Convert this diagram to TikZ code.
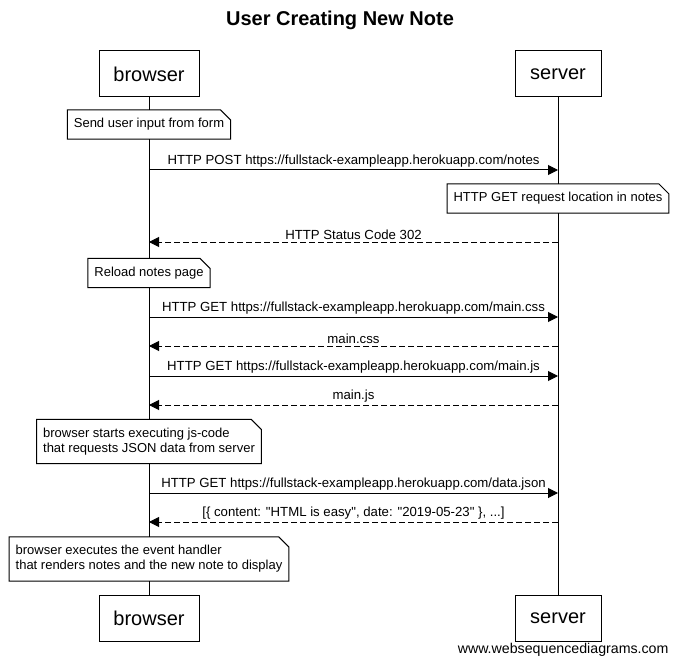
\documentclass[tikz,border=0pt]{standalone}
\usepackage{fontspec}
\setmainfont{Liberation Sans}[Ligatures=TeXOff]
\usetikzlibrary{calc,arrows.meta,positioning}

\begin{document}
\begin{tikzpicture}[x=1pt,y=-1pt,line width=1pt,
  actor/.style={draw,minimum height=46pt,inner sep=0pt,font=\fontsize{20}{24}\selectfont},
  note/.style={fill=white,align=left,inner xsep=6pt,inner ysep=8pt,font=\fontsize{13}{15}\selectfont},
  msg/.style={-{Triangle[length=10pt,width=10pt]}},
  reply/.style={msg,dash pattern=on 6pt off 3pt},
  lbl/.style={midway,above,inner sep=2pt,font=\fontsize{13.2}{15}\selectfont}]
\useasboundingbox (0,0) rectangle (678,666);
\node[font=\fontsize{20}{24}\selectfont\bfseries] (title) at (340,20) {User Creating New Note};
% participants
\node[actor,minimum width=100pt] (bT) at (149,74) {browser};
\node[actor,minimum width=86pt] (sT) at (558,74) {server};
\node[actor,minimum width=100pt] (bB) at (149,618) {browser};
\node[actor,minimum width=86pt] (sB) at (558,618) {server};
\draw (bT) -- (bB);
\draw (sT) -- (sB);
\node[anchor=east,inner sep=0pt,font=\fontsize{14.2}{16}\selectfont] (wsd) at (669,650) {www.websequencediagrams.com};
% notes
\node[note] (n1) at (149,124.5) {Send user input from form};
\node[note] (n2) at (558,198.5) {HTTP GET request location in notes};
\node[note] (n3) at (149,273) {Reload notes page};
\node[note] (n4) at (149,441.5) {browser starts executing js-code\\that requests JSON data from server};
\node[note] (n5) at (149,559) {browser executes the event handler\\that renders notes and the new note to display};
\foreach \n in {n1,n2,n3,n4,n5}
  \draw (\n.south west) -- (\n.north west) -- ($(\n.north east)+(-10,0)$)
    -- ($(\n.north east)+(0,10)$) -- (\n.south east) -- cycle;
% messages
\coordinate (b1) at (149,170); \coordinate (s1) at (558,170);
\coordinate (b2) at (149,242); \coordinate (s2) at (558,242);
\coordinate (b3) at (149,317); \coordinate (s3) at (558,317);
\coordinate (b4) at (149,346); \coordinate (s4) at (558,346);
\coordinate (b5) at (149,376); \coordinate (s5) at (558,376);
\coordinate (b6) at (149,405); \coordinate (s6) at (558,405);
\coordinate (b7) at (149,493); \coordinate (s7) at (558,493);
\coordinate (b8) at (149,522); \coordinate (s8) at (558,522);
\draw[msg] (b1) -- node[lbl] {HTTP POST https://fullstack-exampleapp.herokuapp.com/notes} (s1);
\draw[reply] (s2) -- node[lbl] {HTTP Status Code 302} (b2);
\draw[msg] (b3) -- node[lbl] {HTTP GET https://fullstack-exampleapp.herokuapp.com/main.css} (s3);
\draw[reply] (s4) -- node[lbl] {main.css} (b4);
\draw[msg] (b5) -- node[lbl] {HTTP GET https://fullstack-exampleapp.herokuapp.com/main.js} (s5);
\draw[reply] (s6) -- node[lbl] {main.js} (b6);
\draw[msg] (b7) -- node[lbl] {HTTP GET https://fullstack-exampleapp.herokuapp.com/data.json} (s7);
\draw[reply] (s8) -- node[lbl] {[\{ content: "HTML is easy", date: "2019-05-23" \}, ...]} (b8);
\end{tikzpicture}
\end{document}
